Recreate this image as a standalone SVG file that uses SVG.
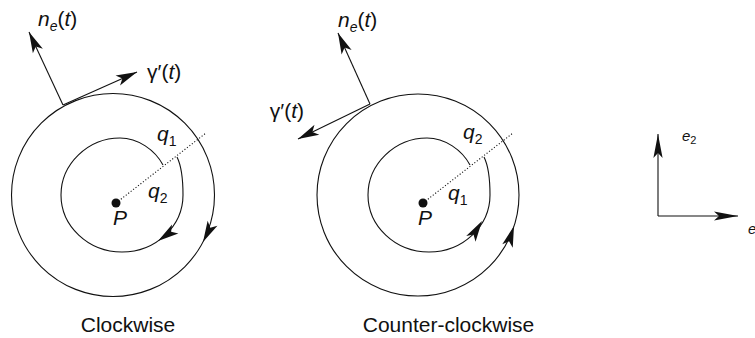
<svg xmlns="http://www.w3.org/2000/svg" xmlns:xlink="http://www.w3.org/1999/xlink" width="755" height="338" viewBox="0 0 755 338">
<style>
.ln{fill:none;stroke:#111;stroke-width:1.1}
.dot{fill:none;stroke:#111;stroke-width:1.1;stroke-dasharray:1.1 2}
.lab{font-family:"Liberation Sans",Arial,sans-serif;font-size:21px;font-style:italic;fill:#111}
.up{font-style:normal}
.sub{font-size:14px}
.cap{font-family:"Liberation Sans",Arial,sans-serif;font-size:21px;fill:#111;text-anchor:middle}
.ax{font-family:"Liberation Sans",Arial,sans-serif;font-size:15px;font-style:italic;fill:#111}
</style>
<defs>
<path id="ah" d="M0,0 L-21,-5.5 L-16,0 L-21,5.5 Z" fill="#111"/>
<marker id="m1" viewBox="-22 -6 23 12" refX="0" refY="0" markerWidth="23" markerHeight="12" markerUnits="userSpaceOnUse" orient="auto">
<path d="M0,0 L-21,-5.5 L-16,0 L-21,5.5 Z" fill="#111"/>
</marker>
<marker id="m2" viewBox="-25 -5 26 10" refX="0" refY="0" markerWidth="26" markerHeight="10" markerUnits="userSpaceOnUse" orient="auto">
<path d="M0,0 L-24,-4.6 L-19,0 L-24,4.6 Z" fill="#111"/>
</marker>
</defs>

<g id="clockwise">
<circle class="ln" cx="113" cy="195" r="101.5"/>
<path class="ln" d="M177,157 C181,165 183,180 183,195 C183,226 156,252 122,252 C88,252 61,226 61,195 C61,164 88,138 120,138 C138,138 155,150 163,165"/>
<circle cx="116" cy="203" r="4.5" fill="#111"/>
<use xlink:href="#ah" href="#ah" transform="translate(158,241) rotate(145)"/>
<use xlink:href="#ah" href="#ah" transform="translate(203,242) rotate(117)"/>
<text class="lab" x="38" y="26">n<tspan class="sub" dy="5">e</tspan><tspan class="up" dy="-5">(</tspan>t<tspan class="up">)</tspan></text>
<text class="lab" x="147" y="79"><tspan class="up">γ′(</tspan>t<tspan class="up">)</tspan></text>
<text class="lab" x="157" y="141">q<tspan class="sub up" dy="5">1</tspan></text>
<text class="lab" x="148" y="198">q<tspan class="sub up" dy="5">2</tspan></text>
<text class="lab" x="113" y="225">P</text>
<text class="cap" x="128" y="332">Clockwise</text>
</g>

<g id="counterclockwise">
<circle class="ln" cx="418" cy="195" r="101"/>
<path class="ln" d="M484,157 C488,165 490,180 490,195 C490,226 463,252 429,252 C395,252 368,226 368,195 C368,164 395,138 427,138 C445,138 462,150 470,165"/>
<circle cx="423" cy="203" r="4.5" fill="#111"/>
<use xlink:href="#ah" href="#ah" transform="translate(482,221) rotate(-58)"/>
<use xlink:href="#ah" href="#ah" transform="translate(514,226) rotate(-72)"/>
<text class="lab" x="338" y="27">n<tspan class="sub" dy="5">e</tspan><tspan class="up" dy="-5">(</tspan>t<tspan class="up">)</tspan></text>
<text class="lab" x="304" y="118" text-anchor="end"><tspan class="up">γ′(</tspan>t<tspan class="up">)</tspan></text>
<text class="lab" x="463" y="139">q<tspan class="sub up" dy="5">2</tspan></text>
<text class="lab" x="448" y="200">q<tspan class="sub up" dy="5">1</tspan></text>
<text class="lab" x="418" y="225">P</text>
<text class="cap" x="448.5" y="332">Counter-clockwise</text>
</g>

<g id="axes">
<text class="ax" x="682" y="141">e<tspan class="up" font-size="11" dy="3">2</tspan></text>
<text class="ax" x="748" y="234">e</text>
</g>

<g id="connectors">
<line class="ln" x1="63" y1="105" x2="29" y2="32" marker-end="url(#m1)"/>
<line class="ln" x1="63" y1="105" x2="137" y2="72" marker-end="url(#m1)"/>
<line class="dot" x1="116" y1="203" x2="206" y2="133"/>
<line class="ln" x1="370" y1="104" x2="338" y2="33" marker-end="url(#m1)"/>
<line class="ln" x1="370" y1="104" x2="298" y2="139" marker-end="url(#m1)"/>
<line class="dot" x1="423" y1="203" x2="513" y2="133"/>
<line class="ln" x1="658" y1="216" x2="658" y2="134" marker-end="url(#m2)"/>
<line class="ln" x1="658" y1="216" x2="738" y2="216" marker-end="url(#m2)"/>
</g>
</svg>
